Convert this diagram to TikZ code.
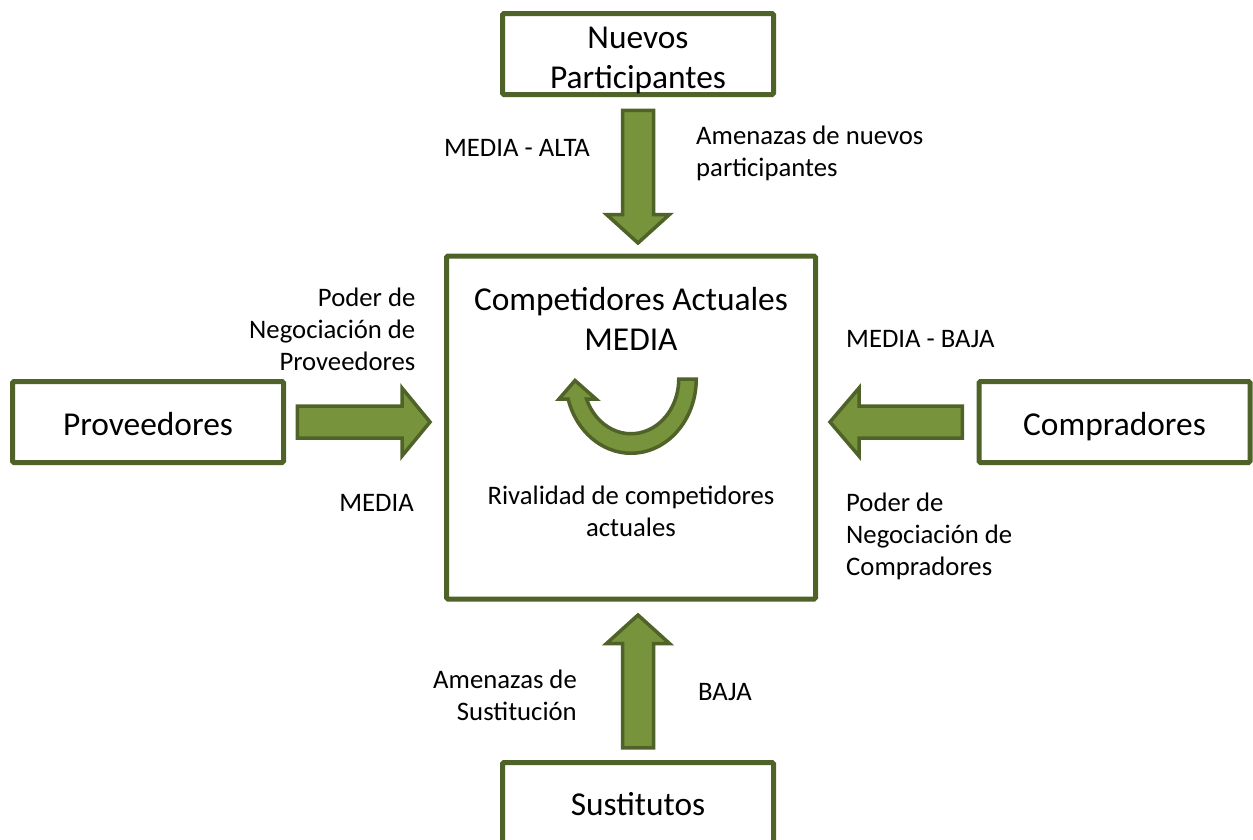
\documentclass[tikz,border=0pt]{standalone}
\usepackage{fontspec}
\setmainfont{Carlito}
\usetikzlibrary{calc}

\definecolor{forceline}{HTML}{4F6228}
\definecolor{forcefill}{HTML}{77933C}

% multi-line text blocks whose baseline is the first line
\newcommand\linesr[1]{\begin{tabular}[t]{@{}r@{}}#1\end{tabular}}
\newcommand\linesl[1]{\begin{tabular}[t]{@{}l@{}}#1\end{tabular}}
\newcommand\linesc[1]{\begin{tabular}[t]{@{}c@{}}#1\end{tabular}}

% block arrow: #1 name, #2 tail, #3 tip, #4 shaft half-width, #5 head half-width, #6 head length
\newcommand\forcearrow[6]{%
  \coordinate (#1-b) at ($(#3)!#6!(#2)$);
  \draw[blockarrow]
    ($(#2)!#4!90:(#3)$) -- ($(#1-b)!#4!90:(#3)$) -- ($(#1-b)!#5!90:(#3)$) -- (#3)
    -- ($(#1-b)!#5!-90:(#3)$) -- ($(#1-b)!#4!-90:(#3)$) -- ($(#2)!#4!-90:(#3)$) -- cycle;
}

\tikzset{
  forcebox/.style={draw=forceline, line width=5pt, rounded corners=1.5pt, fill=white,
    minimum width=271pt, minimum height=81pt, inner sep=0pt},
  blockarrow/.style={draw=forceline, fill=forcefill, line width=3.5pt, line join=miter},
  big/.style={font=\fontsize{33.4}{40}\selectfont, inner sep=0pt},
  small/.style={font=\fontsize{26.7}{32}\selectfont, inner sep=0pt},
}

\begin{document}
\begin{tikzpicture}[x=1pt, y=-1pt]
\useasboundingbox (0,0) rectangle (1253,839);

% the five forces
\node[forcebox] (nuevos) at (638,54) {};
\node[forcebox] (prov) at (148,422) {};
\node[forcebox] (compr) at (1114.5,422) {};
\node[forcebox] (sust) at (638,803) {};
\node[forcebox, minimum width=369pt, minimum height=343pt] (comp) at (631,427.5) {};

\node[big, anchor=base] at ($(nuevos.center)+(0,-6)$) {\linesc{Nuevos\\Participantes}};
\node[big, anchor=base] at ($(prov.center)+(0,13)$) {Proveedores};
\node[big, anchor=base] at ($(compr.center)+(0,13)$) {Compradores};
\node[big, anchor=base] at ($(sust.center)+(0,12.5)$) {Sustitutos};

% arrows pointing into the rivalry box
\coordinate (nT) at ($(nuevos.south)+(0,13.25)$);
\coordinate (nP) at ($(nuevos.south |- comp.north)+(0,-10.5)$);
\forcearrow{aN}{nT}{nP}{15.5pt}{31.5pt}{28.5pt}

\coordinate (sT) at ($(sust.north)+(0,-12.25)$);
\coordinate (sP) at ($(sust.north |- comp.south)+(0,13.5)$);
\forcearrow{aS}{sT}{sP}{15.5pt}{31.5pt}{28.5pt}

\coordinate (pT) at ($(prov.east)+(11.25,0)$);
\coordinate (pP) at ($(prov.east -| comp.west)+(-14,0)$);
\forcearrow{aP}{pT}{pP}{16pt}{34pt}{28pt}

\coordinate (cT) at ($(compr.west)+(-14.25,0)$);
\coordinate (cP) at ($(compr.west -| comp.east)+(12,0)$);
\forcearrow{aC}{cT}{cP}{16pt}{34pt}{29pt}

% rivalry: U-shaped arrow turning back on itself
\coordinate (rc) at ($(comp.center)+(0,-48.5)$);
\draw[blockarrow]
  ($(rc)+(65.25,0)$) arc[start angle=0, end angle=-164.37, x radius=65.25pt, y radius=74.25pt]
  -- ($(rc)+(-72,20)$) -- ($(rc)+(-56,1.5)$) -- ($(rc)+(-35,20)$)
  -- ($(rc)+(-44.45,20)$) arc[start angle=-158.57, end angle=0, x radius=47.75pt, y radius=54.75pt]
  -- cycle;

% texts inside the rivalry box
\node[big, anchor=base] at (631,310) {\linesc{Competidores Actuales\\MEDIA}};
\node[small, anchor=base] at (631,504) {\linesc{Rivalidad de competidores\\actuales}};

% arrow labels
\node[small, anchor=base] at (517,156) {MEDIA - ALTA};
\node[small, anchor=base west] at (696,144) {\linesl{Amenazas de nuevos\\participantes}};
\node[small, anchor=base east] at (415.5,306) {\linesr{Poder de\\Negociación de\\Proveedores}};
\node[small, anchor=base east] at (414,511) {MEDIA};
\node[small, anchor=base west] at (846,347) {MEDIA - BAJA};
\node[small, anchor=base west] at (846,511) {\linesl{Poder de\\Negociación de\\Compradores}};
\node[small, anchor=base east] at (577,688) {\linesr{Amenazas de\\Sustitución}};
\node[small, anchor=base west] at (698,700) {BAJA};
\end{tikzpicture}
\end{document}
